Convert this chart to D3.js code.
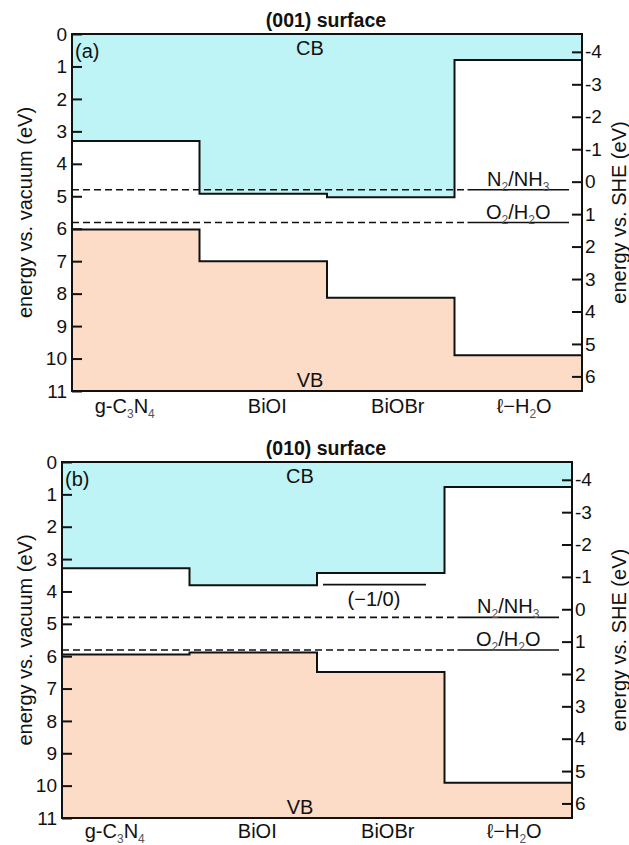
<!DOCTYPE html>
<html>
<head>
<meta charset="utf-8">
<script src="https://cdn.jsdelivr.net/npm/d3@7"></script>
<style>
  body { margin: 0; background: #fff; }
  text { font-family: "Liberation Sans", Arial, sans-serif; fill: #111; }
</style>
</head>
<body>
<div id="chart"></div>
<script>
// Band edges, eV below vacuum
const categories = ["g-C3N4", "BiOI", "BiOBr", "ℓ−H2O"];
const cb001 = [3.30, 4.92, 5.03, 0.80];
const vb001 = [6.02, 7.00, 8.13, 9.90];
const cb010 = [3.28, 3.81, 3.43, 0.77];
const vb010 = [5.95, 5.89, 6.49, 9.91];

// Redox levels (vacuum scale)
const redoxNames = ["N2/NH3", "O2/H2O"];
const redoxVac = [4.80, 5.81];

// defect level shown for the (010) surface
const defectLabel = "(−1/0)";
const defectVac = 3.79;

// tick labels
const vacTicks = [0, 1, 2, 3, 4, 5, 6, 7, 8, 9, 10, 11];
const sheTicks = [-4, -3, -2, -1, 0, 1, 2, 3, 4, 5, 6];
const sheOffset = 4.55;

const width = 629;
const height = 845;

const cbColor = "#bff4f7";
const vbColor = "#fcdcc7";

// small horizontal nudges for the category labels (as in the figure)
const labelNudge = [-11, 4, 7, 6];

var svg = d3.select("#chart")
            .append("svg")
                .attr("width", width)
                .attr("height", height);

// write text with single digits as subscripts
function richText(sel, str, size) {
    var shifted = false;
    str.split(/(?<=[A-Za-z])(?=[0-9])|(?<=[0-9])(?=[^0-9])/).forEach(function(p) {
        if (/^[0-9]$/.test(p)) {
            sel.append("tspan")
                .attr("dy", 5)
                .style("font-size", (size * 0.6) + "px")
                .style("fill", "#555")
                .text(p);
            shifted = true;
        } else {
            sel.append("tspan")
                .attr("dy", shifted ? -5 : 0)
                .text(p);
            shifted = false;
        }
    });
}

function drawPanel(p) {
    var w = p.x1 - p.x0;
    var h = p.y1 - p.y0;

    var g = svg.append("g")
                .attr("transform", "translate(" + p.x0 + "," + p.y0 + ")");

    var scaleX = d3.scaleBand()
                    .domain(categories)
                    .range([0, w]);
    var scaleY = d3.scaleLinear()
                    .domain([0, 11])
                    .range([0, h]);
    var scaleShe = d3.scaleLinear()
                    .domain([-sheOffset, 11 - sheOffset])
                    .range([0, h]);
    var bw = scaleX.bandwidth();

    function steps(vals) {
        return categories.flatMap(function(c, i) {
            return [[scaleX(c), vals[i]], [scaleX(c) + bw, vals[i]]];
        });
    }

    // CB fill (from vacuum down to CB edge)
    g.append("path")
        .datum(steps(p.cb))
        .attr("fill", cbColor)
        .attr("d", d3.area()
            .x(function(d) { return d[0]; })
            .y0(scaleY(0))
            .y1(function(d) { return scaleY(d[1]); }));

    // VB fill
    g.append("path")
        .datum(steps(p.vb))
        .attr("fill", vbColor)
        .attr("d", d3.area()
            .x(function(d) { return d[0]; })
            .y0(scaleY(11))
            .y1(function(d) { return scaleY(d[1]); }));

    // redox levels: dashed across the solids, solid over water
    var last = categories[categories.length - 1];
    var inset = 13;
    redoxVac.forEach(function(v, i) {
        g.append("line")
            .attr("x1", 0).attr("x2", scaleX(last) + inset)
            .attr("y1", scaleY(v)).attr("y2", scaleY(v))
            .attr("stroke", "#111")
            .attr("stroke-width", 1.6)
            .attr("stroke-dasharray", "7,4");
        g.append("line")
            .attr("x1", scaleX(last) + inset).attr("x2", scaleX(last) + bw - inset)
            .attr("y1", scaleY(v)).attr("y2", scaleY(v))
            .attr("stroke", "#111")
            .attr("stroke-width", 1.6);
        var t = g.append("text")
            .attr("x", scaleX(last) + bw / 2)
            .attr("y", scaleY(v) - 4)
            .attr("text-anchor", "middle")
            .style("font-size", "20px");
        richText(t, redoxNames[i], 20);
    });

    // step edges
    var stepLine = d3.line()
                    .x(function(d) { return d[0]; })
                    .y(function(d) { return scaleY(d[1]); });
    [p.cb, p.vb].forEach(function(vals) {
        g.append("path")
            .datum(steps(vals))
            .attr("fill", "none")
            .attr("stroke", "#111")
            .attr("stroke-width", 2)
            .attr("d", stepLine);
    });

    if (p.defect) {
        var bx = scaleX("BiOBr");
        g.append("line")
            .attr("x1", bx + 6).attr("x2", bx + 109)
            .attr("y1", scaleY(defectVac)).attr("y2", scaleY(defectVac))
            .attr("stroke", "#111")
            .attr("stroke-width", 1.6);
        g.append("text")
            .attr("x", bx + 57)
            .attr("y", scaleY(defectVac) + 21)
            .attr("text-anchor", "middle")
            .style("font-size", "20px")
            .text(defectLabel);
    }

    // frame
    g.append("rect")
        .attr("width", w)
        .attr("height", h)
        .attr("fill", "none")
        .attr("stroke", "#111")
        .attr("stroke-width", 2);

    // Left axis (vacuum)
    var axisL = g.append("g")
        .call(d3.axisLeft(scaleY)
            .tickValues(vacTicks)
            .tickSize(-10)
            .tickPadding(5)
            .tickFormat(function(d) { return String(d); }));
    // Right axis (SHE)
    var axisR = g.append("g")
        .attr("transform", "translate(" + w + ",0)")
        .call(d3.axisRight(scaleShe)
            .tickValues(sheTicks)
            .tickSize(-10)
            .tickPadding(3)
            .tickFormat(function(d) { return String(d); }));
    [axisL, axisR].forEach(function(a) {
        a.select(".domain").remove();
        a.selectAll(".tick line").attr("stroke", "#111").attr("stroke-width", 2);
        a.selectAll(".tick text")
            .style("font-family", "'Liberation Sans', Arial, sans-serif")
            .style("font-size", "19px")
            .attr("fill", "#111");
    });

    // category labels
    categories.forEach(function(c, i) {
        var t = g.append("text")
            .attr("x", scaleX(c) + bw / 2 + labelNudge[i])
            .attr("y", h + p.labelDy)
            .attr("text-anchor", "middle")
            .style("font-size", "20px");
        richText(t, c, 20);
    });

    // axis titles
    g.append("text")
        .attr("transform", "rotate(-90)")
        .attr("x", -h / 2)
        .attr("y", -p.x0 + 32)
        .attr("text-anchor", "middle")
        .style("font-size", "20px")
        .text("energy vs. vacuum (eV)");
    g.append("text")
        .attr("transform", "rotate(-90)")
        .attr("x", -h / 2)
        .attr("y", width - p.x0 - 3)
        .attr("text-anchor", "middle")
        .style("font-size", "20px")
        .text("energy vs. SHE (eV)");

    // title + panel tags
    g.append("text")
        .attr("x", 326 - p.x0)
        .attr("y", -7)
        .attr("text-anchor", "middle")
        .style("font-size", "19.5px")
        .style("font-weight", "bold")
        .text(p.title);
    g.append("text")
        .attr("x", 3)
        .attr("y", 24)
        .style("font-size", "20px")
        .text(p.tag);
    g.append("text")
        .attr("x", w / 2 - 17)
        .attr("y", 21)
        .attr("text-anchor", "middle")
        .style("font-size", "20px")
        .text("CB");
    g.append("text")
        .attr("x", w / 2 - 17)
        .attr("y", h - 4)
        .attr("text-anchor", "middle")
        .style("font-size", "20px")
        .text("VB");
}

drawPanel({title: "(001) surface", tag: "(a)", cb: cb001, vb: vb001,
           x0: 72, y0: 34, x1: 582, y1: 391, defect: false, labelDy: 22});
drawPanel({title: "(010) surface", tag: "(b)", cb: cb010, vb: vb010,
           x0: 62, y0: 462, x1: 572, y1: 818, defect: true, labelDy: 20});
</script>
</body>
</html>
